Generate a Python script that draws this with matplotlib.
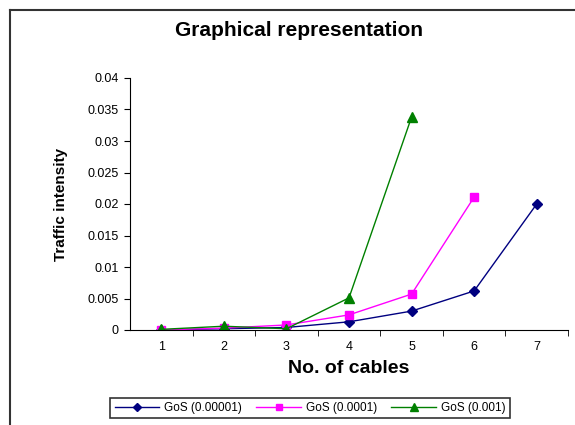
import matplotlib.pyplot as plt
from matplotlib.lines import Line2D

plt.rcParams['font.family'] = ['Liberation Sans', 'DejaVu Sans']

# Data
cables = [1, 2, 3, 4, 5, 6, 7]
gos_00001 = [0.0, 0.0002, 0.0004, 0.0013, 0.0030, 0.0062, 0.0200]
gos_0001 = [0.0, 0.0003, 0.0008, 0.0024, 0.0057, 0.0211]
gos_001 = [0.0001, 0.0006, 0.0002, 0.0051, 0.0338]
y_ticks = [0, 0.005, 0.01, 0.015, 0.02, 0.025, 0.03, 0.035, 0.04]
y_tick_labels = ['0', '0.005', '0.01', '0.015', '0.02', '0.025', '0.03', '0.035', '0.04']

fig = plt.figure(figsize=(5.75, 4.25), dpi=100)
ax = fig.add_axes([130 / 575, 95 / 425, 438 / 575, 252 / 425])

ax.plot(cables, gos_00001, color='#000080', marker='D', markersize=5, lw=1, label='GoS (0.00001)')
ax.plot(cables[:6], gos_0001, color='#FF00FF', marker='s', markersize=6, lw=1, label='GoS (0.0001)')
ax.plot(cables[:5], gos_001, color='#008000', marker='^', markersize=7, lw=1, label='GoS (0.001)')

ax.set_xlim(0.5, 7.5)
ax.set_ylim(0, 0.04)
ax.set_yticks(y_ticks)
ax.set_yticklabels(y_tick_labels, fontsize=9)
ax.set_xticks(cables)
ax.set_xticklabels([str(c) for c in cables], fontsize=9)
ax.tick_params(axis='x', length=0, pad=8)
ax.set_xticks([c + 0.5 for c in cables], minor=True)
ax.tick_params(axis='x', which='minor', length=4, direction='out')
ax.tick_params(axis='y', length=4, direction='out', pad=4)
for s in ['top', 'right']:
    ax.spines[s].set_visible(False)
ax.patch.set_visible(False)

fig.text(299 / 575, 1 - 31 / 425, 'Graphical representation', ha='center', va='center',
         fontsize=15, fontweight='bold')
ax.set_xlabel('No. of cables', fontsize=14, fontweight='bold', labelpad=5)
ax.set_ylabel('Traffic intensity', fontsize=11, fontweight='bold', labelpad=14)

leg = fig.legend(loc='center', bbox_to_anchor=(310 / 575, 1 - 408 / 425), ncol=3, fontsize=8.5,
                 frameon=True, fancybox=False, edgecolor='black', handlelength=3.8,
                 handletextpad=0.4, markerscale=0.8, columnspacing=1.2, borderpad=0.35)
leg.get_frame().set_linewidth(1.2)

# outer chart border (only top and left visible in reference)
fig.add_artist(Line2D([10 / 575, 10 / 575], [0, 1 - 10 / 425], color='#333333', lw=1.5))
fig.add_artist(Line2D([10 / 575, 1], [1 - 10 / 425, 1 - 10 / 425], color='#333333', lw=1.5))

fig.savefig('out.png', dpi=100)
